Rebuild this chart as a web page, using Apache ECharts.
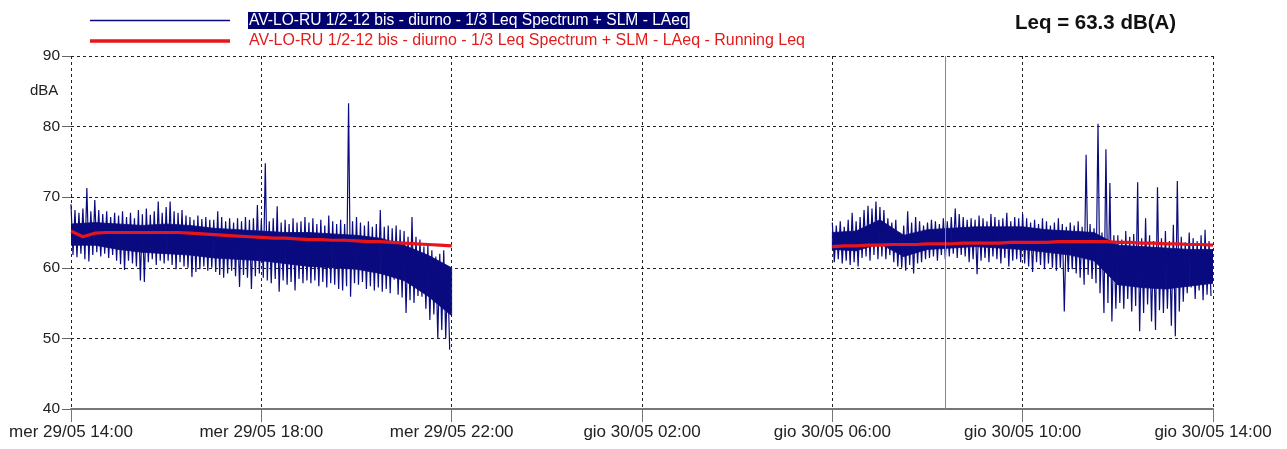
<!DOCTYPE html>
<html>
<head>
<meta charset="utf-8">
<script src="https://cdn.jsdelivr.net/npm/echarts@6/dist/echarts.min.js"></script>
<style>html,body{margin:0;padding:0;background:#fff}#c{width:1287px;height:449px}</style>
</head>
<body>
<div id="c"></div>
<script>
// x positions in minutes after mer 29/05 14:00
const tickLabels = ['mer 29/05 14:00','mer 29/05 18:00','mer 29/05 22:00','gio 30/05 02:00','gio 30/05 06:00','gio 30/05 10:00','gio 30/05 14:00'];
const bucketMinutes = 5;
const coreStep = 30;
const runStep = 15;
const seg1StartMin = 0;    // 14:00
const seg2StartMin = 960;  // 06:00 next day
const gapMin = 720;
const cursorMin = 1102;    // gray cursor line ~08:22

// Segment 1: 5-minute envelope (max / min LAeq), 14:00 - 22:00
const seg1High = [
  69.0, 68.2, 67.8, 68.4, 71.3, 68.0, 69.6, 68.2, 67.6, 68.0, 67.2, 67.8,
  67.4, 68.0, 67.2, 67.8, 67.0, 68.2, 67.6, 68.4, 67.5, 68.0, 69.4, 67.8,
  68.6, 69.4, 68.0, 67.8, 68.2, 67.4, 67.2, 66.8, 67.4, 66.9, 67.2, 66.8,
  66.8, 68.0, 67.2, 66.6, 67.0, 66.4, 67.0, 66.6, 67.2, 66.8, 67.0, 68.9,
  66.8, 74.8, 66.6, 67.0, 68.7, 66.4, 66.8, 66.2, 67.0, 66.4, 66.6, 67.2,
  66.4, 67.0, 66.2, 66.8, 66.0, 67.4, 66.6, 66.2, 66.8, 66.2, 83.3, 66.6,
  67.2, 66.4, 66.0, 66.6, 65.8, 66.2, 68.2, 65.8, 66.0, 65.6, 66.0, 65.4,
  65.2, 64.4, 67.2, 64.4, 64.0, 63.0, 63.2, 62.5, 61.6, 62.0, 62.5, 59.7
];
const seg1Low = [
  61.8, 61.5, 62.0, 61.2, 60.9, 61.8, 62.2, 61.6, 62.0, 61.4, 61.8, 61.0,
  60.5, 59.7, 61.0, 60.6, 60.2, 58.2, 58.0, 60.8, 61.2, 60.4, 61.0, 60.6,
  61.0, 60.4, 59.8, 60.8, 60.2, 60.0, 58.7, 59.4, 59.8, 60.2, 59.6, 60.0,
  59.4, 59.0, 58.6, 59.2, 59.6, 58.8, 57.3, 59.0, 58.6, 57.0, 58.8, 59.2,
  58.6, 58.2, 57.8, 58.4, 56.6, 58.2, 57.6, 58.0, 56.8, 58.4, 57.8, 58.2,
  57.8, 58.2, 57.4, 58.0, 57.2, 57.8, 57.6, 57.0, 56.8, 57.4, 55.9, 57.8,
  57.6, 58.0, 57.0, 57.4, 56.8, 57.2, 56.6, 57.0, 56.4, 58.3, 56.2, 55.8,
  53.6, 55.4, 55.0, 56.0, 55.9, 54.2, 52.6, 53.4, 50.0, 51.2, 50.0, 48.4
];
// Segment 2: 5-minute envelope, 06:00 - 14:00
const seg2High = [
  66.4, 66.0, 66.6, 65.8, 66.8, 67.8, 66.6, 67.2, 68.2, 68.8, 68.4, 69.4,
  68.6, 68.2, 67.0, 66.4, 66.8, 65.0, 66.0, 68.0, 66.4, 67.2, 66.6, 66.0,
  66.4, 66.8, 66.6, 66.2, 67.0, 66.6, 67.2, 68.4, 67.6, 67.2, 66.8, 67.0,
  66.8, 67.4, 67.0, 66.6, 67.6, 67.2, 66.8, 67.0, 67.8, 66.6, 67.2, 67.0,
  67.6, 67.0, 66.4, 66.8, 66.2, 67.0, 66.6, 66.0, 66.4, 67.0, 66.2, 65.8,
  66.4, 66.0, 66.6, 65.8, 76.0, 66.2, 65.6, 80.4, 65.0, 76.8, 72.0, 64.6,
  64.6, 64.0, 65.2, 64.4, 64.8, 72.1, 64.2, 67.0, 64.6, 63.8, 71.4, 64.2,
  65.2, 63.8, 66.1, 72.3, 64.4, 63.6, 65.0, 64.2, 63.8, 64.6, 65.4, 63.8
];
const seg2Low = [
  60.8, 61.2, 60.6, 61.0, 60.4, 60.8, 60.2, 61.4, 61.6, 61.0, 61.8, 61.2,
  61.6, 61.2, 61.8, 60.8, 60.2, 60.0, 59.6, 60.4, 59.2, 60.6, 60.8, 61.2,
  61.4, 61.6, 61.0, 61.8, 61.2, 61.6, 62.0, 61.4, 61.8, 61.6, 60.8, 61.2,
  59.1, 61.0, 61.4, 60.8, 61.6, 61.2, 60.6, 61.4, 60.2, 61.0, 61.2, 60.8,
  60.6, 60.2, 59.4, 60.8, 60.4, 59.8, 60.6, 60.0, 59.6, 60.0, 53.8, 59.4,
  59.8, 59.2, 58.6, 57.6, 59.0, 58.4, 57.8, 56.4, 53.6, 55.0, 52.4, 54.2,
  55.0, 54.2, 55.6, 53.8, 54.6, 51.0, 53.6, 54.8, 52.4, 51.2, 54.0, 53.6,
  54.2, 51.8, 50.3, 53.8, 55.2, 56.4, 57.2, 55.6, 56.8, 55.4, 56.2, 56.0
];
// Dense core of the LAeq trace (where most samples lie), every 30 minutes
const seg1CoreTop    = [66.2, 66.4, 66.2, 66.0, 66.2, 66.0, 65.6, 65.4, 65.2, 65.0, 65.0, 64.8, 64.6, 64.2, 63.2, 61.8, 60.0];
const seg1CoreBottom = [63.2, 63.2, 62.6, 62.2, 62.0, 61.8, 61.4, 61.2, 61.0, 60.6, 60.2, 60.0, 59.8, 59.2, 58.2, 56.0, 53.2];
const seg2CoreTop    = [65.0, 65.2, 66.8, 64.6, 65.4, 65.6, 65.8, 65.8, 65.8, 65.4, 65.2, 65.0, 63.2, 63.0, 62.8, 62.6, 62.6];
const seg2CoreBottom = [62.6, 62.4, 63.4, 61.6, 62.6, 62.8, 63.0, 62.8, 62.6, 62.2, 61.8, 61.0, 57.6, 57.2, 57.0, 57.4, 57.8];
// Running Leq, every 15 minutes
const seg1Running = [65.2, 64.4, 64.9, 65.0, 65.0, 65.0, 65.0, 65.0, 65.0, 65.0, 64.9, 64.8, 64.7, 64.6, 64.5, 64.4, 64.3, 64.2, 64.2, 64.1, 64.0, 64.0, 63.9, 63.9, 63.8, 63.7, 63.7, 63.6, 63.5, 63.4, 63.3, 63.2, 63.1];
const seg2Running = [63.0, 63.1, 63.1, 63.2, 63.2, 63.3, 63.3, 63.3, 63.4, 63.4, 63.4, 63.5, 63.5, 63.5, 63.5, 63.6, 63.6, 63.6, 63.6, 63.7, 63.7, 63.7, 63.7, 63.7, 63.6, 63.6, 63.5, 63.5, 63.4, 63.4, 63.3, 63.3, 63.2];

const nameLAeq = 'AV-LO-RU 1/2-12 bis - diurno - 1/3 Leq Spectrum + SLM - LAeq';
const nameRun = 'AV-LO-RU 1/2-12 bis - diurno - 1/3 Leq Spectrum + SLM - LAeq - Running Leq';
const leqText = 'Leq = 63.3 dB(A)';

function envelope(start, hi, lo) {
  const out = [];
  for (let i = 0; i < hi.length; i++) {
    const t = start + i * bucketMinutes;
    out.push([t, hi[i]]);
    out.push([t + bucketMinutes / 2, lo[i]]);
  }
  return out;
}
function series(start, step, arr) {
  return arr.map((v, i) => [start + i * step, v]);
}
function gapJoin(a, b) { return a.concat([[gapMin, null]], b); }
// core cells: [t0, t1, top0, bottom0, top1, bottom1]
function coreCells(start, top, bottom) {
  const out = [];
  for (let i = 0; i + 1 < top.length; i++) {
    out.push([start + i * coreStep, start + (i + 1) * coreStep, top[i], bottom[i], top[i + 1], bottom[i + 1]]);
  }
  return out;
}

const blueData = gapJoin(envelope(seg1StartMin, seg1High, seg1Low), envelope(seg2StartMin, seg2High, seg2Low));
const redData = gapJoin(series(seg1StartMin, runStep, seg1Running), series(seg2StartMin, runStep, seg2Running));
const coreData = coreCells(seg1StartMin, seg1CoreTop, seg1CoreBottom).concat(coreCells(seg2StartMin, seg2CoreTop, seg2CoreBottom));

const navy = '#0b0b80';
const red = '#e8141b';
const font = 'Liberation Sans, Arial, sans-serif';
const chart = echarts.init(document.getElementById('c'), null, {renderer: 'canvas'});
chart.setOption({
  animation: false,
  backgroundColor: '#fff',
  grid: {left: 71, right: 74, top: 56, bottom: 40},
  title: {text: leqText, left: 1010, top: 8, textStyle: {fontFamily: font, fontSize: 20.5, fontWeight: 'bold', color: '#111'}},
  legend: [
    {
      left: 85, top: 7, itemWidth: 140, itemHeight: 1.4, icon: 'rect', selectedMode: false,
      data: [{name: nameLAeq}],
      formatter: n => '{a|' + n + '}',
      textStyle: {fontFamily: font, fontSize: 15.6, padding: [0, 0, 0, 13],
        rich: {a: {color: '#fff', backgroundColor: '#00006e', fontFamily: font, fontSize: 15.6, padding: [1, 1, 0, 1]}}}
    },
    {
      left: 85, top: 28, itemWidth: 140, itemHeight: 3.5, icon: 'rect', selectedMode: false,
      data: [{name: nameRun}],
      textStyle: {fontFamily: font, fontSize: 16, color: '#e31b1b', padding: [0, 0, 0, 14]}
    }
  ],
  xAxis: {
    type: 'value', min: 0, max: 1440, interval: 240,
    axisLine: {show: true, lineStyle: {color: '#777', width: 2}},
    axisTick: {show: true, length: 13, lineStyle: {color: '#777'}},
    axisLabel: {fontFamily: font, fontSize: 17, color: '#222', margin: 15,
      formatter: v => tickLabels[Math.round(v / 240)]},
    splitLine: {show: true, lineStyle: {color: '#222', type: [3, 3], width: 1}}
  },
  yAxis: {
    type: 'value', min: 40, max: 90, interval: 10,
    axisLine: {show: false},
    axisTick: {show: true, length: 9, lineStyle: {color: '#666'}},
    axisLabel: {fontFamily: font, fontSize: 15.5, color: '#222', margin: 11},
    splitLine: {show: true, lineStyle: {color: '#222', type: [3, 3], width: 1}}
  },
  graphic: [
    {type: 'text', left: 30, top: 83, style: {text: 'dBA', font: '15px ' + font, fill: '#222'}}
  ],
  series: [
    {
      name: 'core', type: 'custom', data: coreData, silent: true, clip: true,
      encode: {x: [0, 1], y: [2, 3, 4, 5]},
      renderItem: function (params, api) {
        const p0 = api.coord([api.value(0), api.value(2)]);
        const p1 = api.coord([api.value(1), api.value(4)]);
        const p2 = api.coord([api.value(1), api.value(5)]);
        const p3 = api.coord([api.value(0), api.value(3)]);
        return {type: 'polygon', shape: {points: [p0, p1, p2, p3]},
          style: {fill: navy, stroke: navy, lineWidth: 0.8}};
      }
    },
    {
      name: nameLAeq, type: 'line', data: blueData, symbol: 'none', connectNulls: false,
      lineStyle: {color: navy, width: 1.2}, itemStyle: {color: navy},
      markLine: {silent: true, symbol: 'none', label: {show: false},
        lineStyle: {color: '#888', type: 'solid', width: 1},
        data: [{xAxis: cursorMin}]}
    },
    {
      name: nameRun, type: 'line', data: redData, symbol: 'none', connectNulls: false,
      lineStyle: {color: red, width: 3.2}, itemStyle: {color: red}
    }
  ]
});
</script>
</body>
</html>
